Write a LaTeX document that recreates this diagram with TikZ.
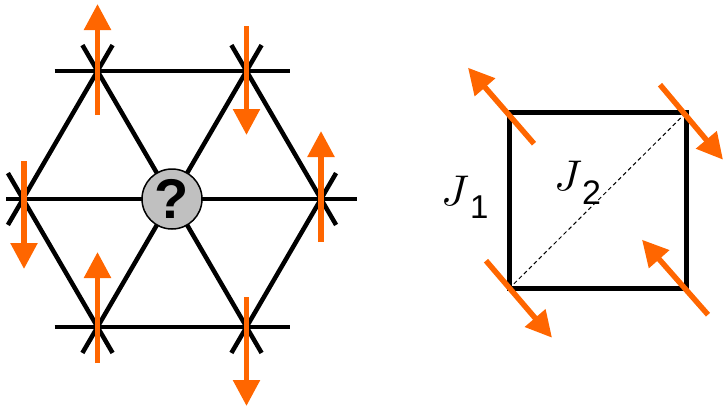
\documentclass[tikz,border=0pt]{standalone}
\usepackage{fontspec}
\setsansfont{Liberation Sans}
\usetikzlibrary{arrows.meta,calc}
\definecolor{spinor}{RGB}{255,102,0}
\definecolor{qgray}{RGB}{192,192,192}
\begin{document}
\begin{tikzpicture}[x=1pt,y=-1pt,
  lattice/.style={line width=4.5pt},
  ext/.style={shorten <=-#1, shorten >=-#1},
  spin/.style={draw=spinor, line width=5.5pt, -{Triangle[width=26pt,length=26pt]}},
  bond/.style={line width=5pt, line join=miter},
  diag/.style={line width=1pt, dash pattern=on 4pt off 3pt},
  jlabel/.style={inner sep=0pt, anchor=base west}]
\useasboundingbox (0,0) rectangle (723,408);
% triangular lattice sites
\coordinate (C)  at (172,199);
\coordinate (TL) at (97.5,71);
\coordinate (TR) at (246.5,71);
\coordinate (L)  at (23,199);
\coordinate (R)  at (321,199);
\coordinate (BL) at (97.5,327);
\coordinate (BR) at (246.5,327);
% horizontal lines
\draw[lattice, ext=43pt] (TL) -- (TR);
\draw[lattice, ext=43pt] (BL) -- (BR);
\draw[lattice, shorten <=-17pt, shorten >=-36pt] (L) -- (R);
% rising lines
\draw[lattice, ext=30pt] (L) -- (TL);
\draw[lattice, ext=30pt] (BL) -- (TR);
\draw[lattice, ext=30pt] (BR) -- (R);
% falling lines
\draw[lattice, ext=30pt] (TL) -- (BR);
\draw[lattice, ext=30pt] (L) -- (BL);
\draw[lattice, ext=30pt] (TR) -- (R);
% central site
\node[circle, draw, line width=1.5pt, fill=qgray, minimum size=60pt, inner sep=0pt] (q) at (C)
  {\sffamily\bfseries\fontsize{56}{56}\selectfont ?};
% spins on the lattice
\draw[spin] ($(TL)+(0,44)$) -- ($(TL)+(0,-67)$);
\draw[spin] ($(TR)+(0,-45)$) -- ($(TR)+(0,64)$);
\draw[spin] ($(L)+(1,-38)$) -- ($(L)+(1,70)$);
\draw[spin] ($(R)+(0,43)$) -- ($(R)+(0,-68)$);
\draw[spin] ($(BL)+(0,36)$) -- ($(BL)+(0,-75)$);
\draw[spin] ($(BR)+(0,-30)$) -- ($(BR)+(0,79)$);
% square plaquette
\coordinate (sTL) at (509,112.7);
\coordinate (sTR) at (686,112.7);
\coordinate (sBR) at (686,288.7);
\coordinate (sBL) at (509,288.7);
\draw[bond] (sTL) -- (sTR) -- (sBR) -- (sBL) -- cycle;
\draw[diag] (sBL) -- (sTR);
\node[jlabel] (j1) at (441,205) {\scalebox{4.3}{$J$}\kern1pt\raisebox{-13pt}{\sffamily\fontsize{33}{33}\selectfont 1}};
\node[jlabel] (j2) at (554,190) {\scalebox{4.3}{$J$}\kern0pt\raisebox{-14pt}{\sffamily\fontsize{34}{34}\selectfont 2}};
% spins on the square
\draw[spin] ($(sTL)+(25,31)$) -- ($(sTL)+(-41,-45)$);
\draw[spin] ($(sTR)+(-26,-28)$) -- ($(sTR)+(37,47)$);
\draw[spin] ($(sBL)+(-23,-28)$) -- ($(sBL)+(43,49)$);
\draw[spin] ($(sBR)+(22,26)$) -- ($(sBR)+(-44,-49)$);
\end{tikzpicture}
\end{document}
